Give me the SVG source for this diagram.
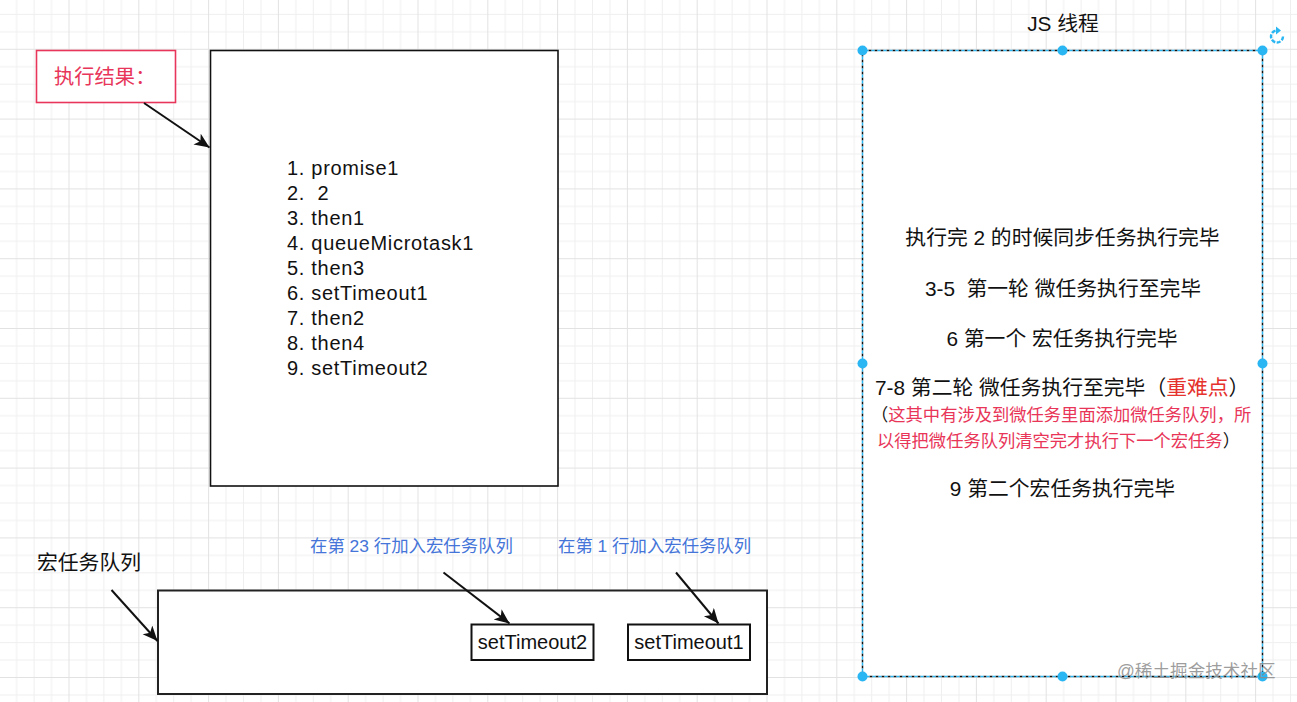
<svg xmlns="http://www.w3.org/2000/svg" width="1297" height="702" viewBox="0 0 1297 702">
<style>
.t{font-family:"Liberation Sans","Noto Sans CJK SC",sans-serif;font-size:20px;fill:#111}
.r{font-size:20.8px}
.lat{letter-spacing:0.7px}
.blue{font-family:"Liberation Sans","Noto Sans CJK SC",sans-serif;font-size:17.4px;fill:#4575d9}
.red{fill:#e83558}
.box{fill:#fff;stroke:#111;stroke-width:1.6}
.conn{fill:none;stroke:#111;stroke-width:2}
.handle{fill:#29b6f2}
</style>
<defs>
<pattern id="grid" width="69.8" height="69.8" patternUnits="userSpaceOnUse" x="-1.3" y="-21">
<path d="M17.95 0V69.8M35.4 0V69.8M52.85 0V69.8M0 17.95H69.8M0 35.4H69.8M0 52.85H69.8" stroke="#efefef" stroke-width="1" fill="none"/>
<path d="M0.5 0V69.8M0 0.5H69.8" stroke="#e2e2e2" stroke-width="1" fill="none"/>
</pattern>
<marker id="arrow" markerUnits="userSpaceOnUse" markerWidth="16" markerHeight="14" refX="15" refY="6.5" orient="auto" viewBox="0 0 16 14">
<path d="M0,0 L15,6.5 L0,13 L4,6.5 Z" fill="#111"/>
</marker>
</defs>
<rect x="0" y="0" width="1297" height="702" fill="#fff"/>
<rect x="0" y="0" width="1297" height="702" fill="url(#grid)"/>

<g id="result-label">
<rect x="36.5" y="50.5" width="139" height="52" fill="#fff" stroke="#e8365a" stroke-width="1.6"/>
<text x="54" y="84" class="t" style="fill:#e8365a;font-size:20.3px">执行结果：</text>
</g>

<g id="result-box">
<rect x="210.5" y="50.5" width="347.5" height="435.5" class="box"/>
<text class="t lat" x="287" y="175">1. promise1</text>
<text class="t lat" x="287" y="200" xml:space="preserve">2.  2</text>
<text class="t lat" x="287" y="225">3. then1</text>
<text class="t lat" x="287" y="250">4. queueMicrotask1</text>
<text class="t lat" x="287" y="275">5. then3</text>
<text class="t lat" x="287" y="300">6. setTimeout1</text>
<text class="t lat" x="287" y="325">7. then2</text>
<text class="t lat" x="287" y="350">8. then4</text>
<text class="t lat" x="287" y="375">9. setTimeout2</text>
</g>

<g id="js-thread">
<text class="t r" x="1063" y="31" text-anchor="middle">JS 线程</text>
<rect x="862.5" y="50.5" width="400" height="626" fill="#fff"/>
<rect x="862.5" y="50.5" width="400" height="626" fill="none" stroke="#111" stroke-width="1.5" stroke-dasharray="3 3"/>
<rect x="862.5" y="50.5" width="400" height="626" fill="none" stroke="#29b6f2" stroke-width="1.5" stroke-dasharray="3 3" stroke-dashoffset="3"/>
<text class="t r" x="1062.5" y="245" text-anchor="middle">执行完 2 的时候同步任务执行完毕</text>
<text class="t r" x="1063" y="296" text-anchor="middle" xml:space="preserve">3-5  第一轮 微任务执行至完毕</text>
<text class="t r" x="1062" y="346" text-anchor="middle">6 第一个 宏任务执行完毕</text>
<text class="t r" x="875" y="395">7-8 第二轮 微任务执行至完毕（<tspan style="fill:#e5322d">重难点</tspan>）</text>
<text class="t" x="871" y="421" style="font-size:17.3px">（<tspan class="red">这其中有涉及到微任务里面添加微任务队列，所</tspan></text>
<text class="t" x="877" y="447" style="font-size:17.3px"><tspan class="red">以得把微任务队列清空完才执行下一个宏任务</tspan>）</text>
<text class="t r" x="1062.5" y="496" text-anchor="middle">9 第二个宏任务执行完毕</text>
<circle class="handle" cx="862.5" cy="50.5" r="5"/>
<circle class="handle" cx="1062.5" cy="50.5" r="5"/>
<circle class="handle" cx="1262.5" cy="50.5" r="5"/>
<circle class="handle" cx="862.5" cy="363.5" r="5"/>
<circle class="handle" cx="1262.5" cy="363.5" r="5"/>
<circle class="handle" cx="862.5" cy="676.5" r="5"/>
<circle class="handle" cx="1062.5" cy="676.5" r="5"/>
<circle class="handle" cx="1262.5" cy="676.5" r="5"/>
<path d="M1283 36.5 A6 6 0 1 1 1277 30.5" fill="none" stroke="#29b6f2" stroke-width="2.4" stroke-dasharray="4 1.5"/>
<path d="M1276 26.5 L1281 30.5 L1276 34.5 Z" fill="#29b6f2"/>
</g>

<g id="macro-label">
<text class="t r" x="37" y="570">宏任务队列</text>
</g>

<g id="macro-queue">
<rect x="158" y="590.5" width="609" height="103.5" fill="#fff" stroke="#222" stroke-width="2"/>
</g>

<g id="st2">
<rect x="471.5" y="624.5" width="122" height="35.5" fill="#fff" stroke="#111" stroke-width="2"/>
<text class="t" x="532.5" y="649" text-anchor="middle">setTimeout2</text>
</g>
<g id="st1">
<rect x="628" y="624.5" width="122" height="35.5" fill="#fff" stroke="#111" stroke-width="2"/>
<text class="t" x="689" y="649" text-anchor="middle">setTimeout1</text>
</g>

<g id="label-23">
<text class="blue" x="310" y="552">在第 23 行加入宏任务队列</text>
</g>
<g id="label-1">
<text class="blue" x="558" y="552">在第 1 行加入宏任务队列</text>
</g>

<g id="connectors">
<line class="conn" x1="144" y1="103" x2="209.5" y2="147.5" marker-end="url(#arrow)"/>
<line class="conn" x1="111.5" y1="590" x2="157.5" y2="641" marker-end="url(#arrow)"/>
<line class="conn" x1="443.5" y1="572.5" x2="509.5" y2="623.5" marker-end="url(#arrow)"/>
<line class="conn" x1="676" y1="572.5" x2="718.5" y2="623.5" marker-end="url(#arrow)"/>
</g>

<g id="watermark">
<text x="1117" y="677" style="font-family:'Liberation Sans','Noto Sans CJK SC',sans-serif;font-size:17.6px;fill:#8c8c8c;fill-opacity:0.85">@稀土掘金技术社区</text>
</g>
</svg>
